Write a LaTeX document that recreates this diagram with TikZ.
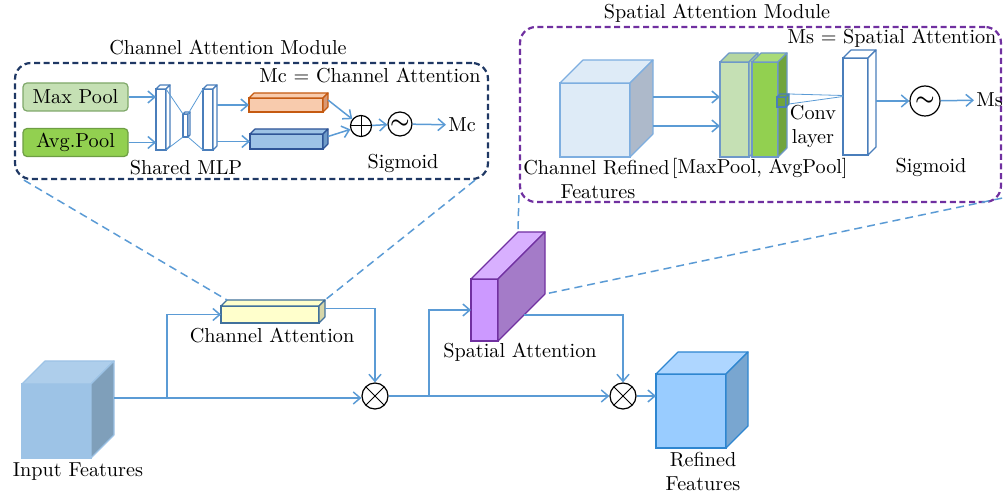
\documentclass[tikz,border=0pt]{standalone}
\usepackage{amsmath}
\usetikzlibrary{arrows.meta}

\definecolor{linkblue}{HTML}{5B9BD5}
\definecolor{camnavy}{HTML}{1F3864}
\definecolor{sampurple}{HTML}{7030A0}
\definecolor{edgeblue}{HTML}{4A7EBB}
\definecolor{maxfill}{HTML}{C5E0B4}\definecolor{maxedge}{HTML}{7FA86A}
\definecolor{avgfill}{HTML}{92D050}\definecolor{avgedge}{HTML}{6E9E44}

\newcommand{\px}{0.5pt}
% one block: name, front centre, width, height, depth, front/side/top fill, edge
\newcommand{\drawblock}[9]{%
  \node[blk, draw=#9, fill=#6, minimum width=#3*\px, minimum height=#4*\px] (#1) at #2 {};
  \node[blk, minimum width=#3*\px, minimum height=#4*\px, shift={(#5,-#5)}] (#1-b) at #2 {};
  \filldraw[blkline, draw=#9, fill=#8] (#1.north west) -- (#1-b.north west) -- (#1-b.north east) -- (#1.north east) -- cycle;
  \filldraw[blkline, draw=#9, fill=#7] (#1.north east) -- (#1-b.north east) -- (#1-b.south east) -- (#1.south east) -- cycle;
}

\begin{document}
\begin{tikzpicture}[x=\px,y=-\px,
    >={Straight Barb[length=3.5pt,width=6pt]},
    lbl/.style={font=\fontsize{10.1}{12}\selectfont, inner sep=1pt, align=center},
    blk/.style={inner sep=0pt, outer sep=0pt, line width=0.6pt},
    blkline/.style={line width=0.6pt, line join=round},
    link/.style={draw=linkblue, line width=0.75pt, ->},
    thinlink/.style={draw=linkblue, line width=0.4pt},
    zoomline/.style={draw=linkblue, line width=0.75pt, dash pattern=on 4pt off 2.5pt},
    module/.style={line width=1.1pt, dash pattern=on 3pt off 1.8pt, rounded corners=8pt},
    pool/.style={lbl, rounded corners=2pt, line width=0.6pt, minimum width=52.5pt, minimum height=14pt},
    opcirc/.style={circle, draw=black, fill=white, line width=0.6pt, inner sep=0pt},
    otimes/.style={opcirc, minimum size=13pt,
      path picture={\draw[line width=0.5pt] (path picture bounding box.south west) -- (path picture bounding box.north east)
        (path picture bounding box.north west) -- (path picture bounding box.south east);}},
    oplus/.style={opcirc, minimum size=10.5pt,
      path picture={\draw[line width=0.5pt] (path picture bounding box.north) -- (path picture bounding box.south)
        (path picture bounding box.west) -- (path picture bounding box.east);}},
    sigm/.style={opcirc, font=\fontsize{11}{11}\selectfont}]
\useasboundingbox (0,0) rectangle (1003,497);

% module frames
\node[module, draw=camnavy, minimum width=473*\px, minimum height=116*\px] (cam) at (251.5,121) {};
\node[lbl] (camtitle) at (228,47) {Channel Attention Module};
\node[module, draw=sampurple, minimum width=481*\px, minimum height=175*\px] (sam) at (760.5,114.5) {};
\node[lbl] (samtitle) at (717,13) {Spatial Attention Module};

% channel attention module
\node[pool, draw=maxedge, fill=maxfill] (maxpool) at (75.5,97) {Max Pool};
\node[pool, draw=avgedge, fill=avgfill] (avgpool) at (75.5,142.5) {Avg.Pool};
\drawblock{mlp1}{(161,119.5)}{10}{61}{4}{white}{white}{white}{edgeblue}
\drawblock{mlpm}{(185.5,125.5)}{5}{23}{2}{white}{white}{white}{edgeblue}
\drawblock{mlp3}{(208,119.5)}{10}{61}{4}{white}{white}{white}{edgeblue}
\draw[thinlink] (mlp1.north east) -- (mlpm.north west) (mlp1.south east) -- (mlpm.south west);
\draw[thinlink] (mlpm.north east) -- (mlp3.north west) (mlpm.south east) -- (mlp3.south west);
\definecolor{orfront}{HTML}{F8CBAD}\definecolor{orside}{HTML}{D99873}\definecolor{oredge}{HTML}{C55A11}
\definecolor{blfront}{HTML}{9DC3E6}\definecolor{blside}{HTML}{6F9BC8}\definecolor{bledge}{HTML}{2F5597}
\drawblock{mcmax}{(286,105)}{74}{14}{5}{orfront}{orside}{orfront}{oredge}
\drawblock{mcavg}{(286.5,141.5)}{73}{15}{5}{blfront}{blside}{blfront}{bledge}
\node[oplus] (sum) at (361,126) {};
\node[sigm, minimum size=12pt] (sig1) at (400,124) {$\boldsymbol{\sim}$};
\node[lbl, anchor=west] (mc) at (446,125) {Mc};
\node[lbl] (mceq) at (370,75) {Mc = Channel Attention};
\node[lbl] (mlplbl) at (186,168) {Shared MLP};
\node[lbl] (sig1lbl) at (403,163) {Sigmoid};
\draw[link] (maxpool.east) -- (maxpool.east -| mlp1.west);
\draw[link] (avgpool.east) -- (avgpool.east -| mlp1.west);
\draw[link] (mlp3-b.east |- mcmax.west) -- (mcmax.west);
\draw[link] (mlp3-b.east |- mcavg.west) -- (mcavg.west);
\draw[link] (mcmax-b.east) -- (sum);
\draw[link] (mcavg-b.east) -- (sum);
\draw[link] (sum) -- (sig1);
\draw[link] (sig1) -- (mc);

% spatial attention module
\definecolor{crffront}{HTML}{DEEBF7}\definecolor{crfside}{HTML}{ADB9CA}\definecolor{crfedge}{HTML}{7DAEE0}
\definecolor{lgfront}{HTML}{C5E0B4}\definecolor{lgtop}{HTML}{B5D6A0}
\definecolor{dgfront}{HTML}{92D050}\definecolor{dgside}{HTML}{70A43C}\definecolor{dgtop}{HTML}{A9DB78}
\drawblock{crf}{(595,120)}{70}{74}{23}{crffront}{crfside}{crffront}{crfedge}
\drawblock{lg}{(734.5,109.5)}{29}{95}{9}{lgfront}{lgtop}{lgtop}{edgeblue!80}
\drawblock{dg}{(765,109.5)}{26}{95}{9}{dgfront}{dgside}{dgtop}{edgeblue!80}
\drawblock{kern}{(781.5,102)}{9}{10}{3}{dgside}{dgside}{dgside}{edgeblue}
\drawblock{conv}{(855.5,106.5)}{25}{97}{8}{white}{white}{white}{edgeblue}
\draw[thinlink] (kern-b.north east) -- ([yshift=5.5pt]conv.west) (kern-b.south east) -- ([yshift=5pt]conv.west);
\node[sigm, minimum size=15pt] (sig2) at (925,101) {$\boldsymbol{\sim}$};
\node[lbl, anchor=west] (ms) at (974,100) {Ms};
\node[lbl] (mseq) at (892,38) {Ms = Spatial Attention};
\node[lbl, anchor=west] (crflbl) at (521,168) {Channel Refined};
\node[lbl] (crflbl2) at (598,192) {Features};
\node[lbl, anchor=east] (catlbl) at (850,168) {[MaxPool, AvgPool]};
\node[lbl] (convlbl) at (813,126) {Conv\\layer};
\node[lbl] (sig2lbl) at (931,167) {Sigmoid};
\draw[link] (crf-b.east) -- (crf-b.east -| lg.west);
\draw[link] ([yshift=-14.5pt]crf-b.east) -- ([yshift=-14.5pt]crf-b.east -| lg.west);
\draw[link] (conv-b.east |- sig2.west) -- (sig2.west);
\draw[link] (sig2) -- (ms);

% main path
\definecolor{inpfront}{HTML}{9DC3E6}\definecolor{inpside}{HTML}{7F9FBA}\definecolor{inptop}{HTML}{AECEEB}
\definecolor{cafront}{HTML}{FFFFCC}\definecolor{caside}{HTML}{D6D6A8}\definecolor{caedge}{HTML}{41719C}
\definecolor{safront}{HTML}{CC99FF}\definecolor{saside}{HTML}{A47BC8}\definecolor{satop}{HTML}{D8B0FF}
\definecolor{rffront}{HTML}{99CCFF}\definecolor{rfside}{HTML}{79A6D0}\definecolor{rftop}{HTML}{AED6FF}\definecolor{rfedge}{HTML}{2E86D0}
\drawblock{inp}{(56.5,421)}{69}{74}{23}{inpfront}{inpside}{inptop}{inpfront}
\drawblock{ca}{(270,314.5)}{98}{17}{6}{cafront}{caside}{cafront}{caedge}
\drawblock{sa}{(484.5,310)}{27}{62}{47}{safront}{saside}{satop}{sampurple}
\drawblock{rf}{(691,411)}{70}{74}{22}{rffront}{rfside}{rftop}{rfedge}
\draw[zoomline] ([xshift=5pt]cam.south west) -- (ca-b.north west);
\draw[zoomline] ([xshift=-7pt]cam.south east) -- (ca-b.north east);
\draw[zoomline] ([yshift=4pt]sam.south west) -- (sa-b.north west);
\draw[zoomline] ([yshift=2.5pt]sam.south east) -- (sa-b.south east);
\node[otimes] (ot1) at (375,396) {};
\node[otimes] (ot2) at (623,396) {};
\coordinate (split1) at (167,398);
\coordinate (split2) at (429,396);
\node[lbl] (inplbl) at (78,472) {Input Features};
\node[lbl] (calbl) at (272,335) {Channel Attention};
\node[lbl] (salbl) at (520,352) {Spatial Attention};
\node[lbl] (rflbl) at (703,471) {Refined\\Features};
\draw[link] (inp-b.east) -- (inp-b.east -| ot1.west);
\draw[link] (split1) |- (ca.west);
\draw[link] (ca-b.east) -| (ot1.north);
\draw[link] (ot1.east) -- (ot2.west);
\draw[link] (split2) |- (sa.west);
\draw[link] ([shift={(26,-26)}]sa.south east) -| (ot2.north);
\draw[link] (ot2.east) -- (ot2.east -| rf.west);
\end{tikzpicture}
\end{document}
